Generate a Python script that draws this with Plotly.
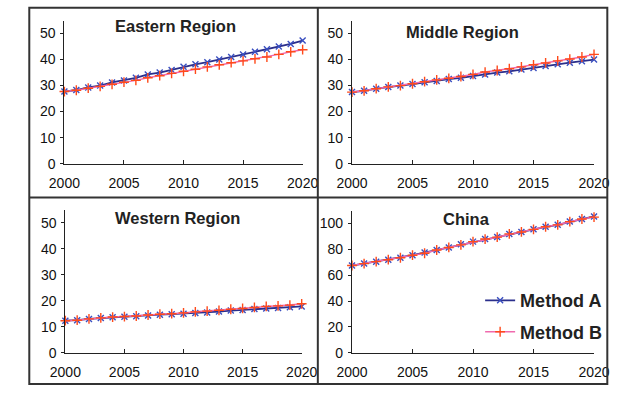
import plotly.graph_objects as go

years = list(range(2000, 2021))

regions = ["Eastern Region", "Middle Region", "Western Region", "China"]
methods = ["Method A", "Method B"]

eastern_a = [27.7, 28.3, 29.3, 30.0, 31.2, 32.0, 33.0, 34.3, 35.0, 36.0, 37.2,
             38.2, 39.0, 40.0, 41.0, 42.0, 43.0, 44.0, 45.0, 46.0, 47.3]
eastern_b = [27.7, 28.2, 29.0, 29.7, 30.5, 31.3, 32.0, 33.0, 33.8, 34.7, 35.5,
             36.3, 37.2, 38.0, 38.8, 39.5, 40.3, 41.0, 42.0, 43.0, 43.8]

middle_a = [27.5, 28.0, 28.8, 29.5, 30.0, 30.6, 31.3, 31.8, 32.5, 33.0, 33.7,
            34.3, 35.0, 35.5, 36.2, 36.8, 37.5, 38.2, 38.8, 39.4, 40.0]
middle_b = [27.5, 28.0, 28.8, 29.5, 30.0, 30.7, 31.5, 32.2, 32.8, 33.5, 34.3,
            35.2, 35.8, 36.5, 37.2, 38.0, 38.7, 39.5, 40.2, 41.0, 42.0]

western_a = [12.3, 12.5, 13.0, 13.3, 13.6, 13.8, 14.0, 14.3, 14.6, 14.8, 15.0,
             15.3, 15.5, 15.8, 16.2, 16.4, 16.8, 17.0, 17.2, 17.5, 17.8]
western_b = [12.3, 12.5, 13.0, 13.4, 13.7, 13.9, 14.1, 14.5, 14.8, 15.0, 15.3,
             15.7, 16.0, 16.3, 16.7, 17.0, 17.4, 17.8, 18.0, 18.3, 18.8]

china_a = [67.5, 69.0, 70.5, 72.0, 73.5, 75.5, 77.5, 79.5, 81.5, 84.0, 86.0,
           88.0, 89.5, 92.0, 93.5, 95.5, 97.5, 99.0, 101.5, 103.5, 105.5]
china_b = [67.5, 69.0, 70.5, 72.0, 73.5, 75.5, 77.0, 79.5, 81.5, 83.5, 86.0,
           88.0, 89.5, 92.0, 93.5, 95.5, 97.5, 99.0, 101.5, 103.5, 105.0]

series_a = [eastern_a, middle_a, western_a, china_a]
series_b = [eastern_b, middle_b, western_b, china_b]

y_max = [55, 55, 55, 110]
y_dtick = [10, 10, 10, 20]

W, H = 629, 394

# panel plot areas in pixels: (left, right, top, bottom)
panels = [
    (51, 302, 21, 167),
    (354, 609, 21, 167),
    (52, 301, 214, 360),
    (354, 609, 215, 360),
]
title_pos = [(168, 27), (470, 33), (170, 223), (475, 224)]

NAVY = "#2B2F8C"
BLUE_MK = "#3A4FC0"
PINK = "#F06AAE"
ORANGE = "#FF4A1A"
FONT = "Liberation Sans"

fig = go.Figure()
layout = {}
for i in range(4):
    xn = "x" if i == 0 else f"x{i + 1}"
    yn = "y" if i == 0 else f"y{i + 1}"
    l, r, t, b = panels[i]
    fig.add_trace(go.Scatter(
        x=years, y=series_a[i], xaxis=xn, yaxis=yn, mode="lines+markers",
        name=f"<b>{methods[0]}</b>", showlegend=(i == 3), legendgroup="a",
        line=dict(color=NAVY, width=1.8), cliponaxis=False,
        marker=dict(symbol="x-thin", size=6, line=dict(color=BLUE_MK, width=1.4)),
    ))
    fig.add_trace(go.Scatter(
        x=years, y=series_b[i], xaxis=xn, yaxis=yn, mode="lines+markers",
        name=f"<b>{methods[1]}</b>", showlegend=(i == 3), legendgroup="b",
        line=dict(color=PINK, width=1.5), cliponaxis=False,
        marker=dict(symbol="cross-thin", size=7, line=dict(color=ORANGE, width=1.4)),
    ))
    xkey = "xaxis" if i == 0 else f"xaxis{i + 1}"
    ykey = "yaxis" if i == 0 else f"yaxis{i + 1}"
    layout[xkey] = dict(
        domain=[l / W, r / W], anchor=yn, range=[2000, 2020],
        tickvals=[2000, 2005, 2010, 2015, 2020], ticks="inside", ticklen=4,
        tickcolor="#222", showline=True, linecolor="#222", linewidth=1.2,
        showgrid=False, zeroline=False, ticklabelstandoff=6,
        tickfont=dict(family=FONT, size=14, color="#111"),
    )
    layout[ykey] = dict(
        domain=[1 - b / H, 1 - t / H], anchor=xn, range=[0, y_max[i]],
        dtick=y_dtick[i], tick0=0, ticks="outside", ticklen=3,
        tickcolor="#222", showline=True, linecolor="#222", linewidth=1.2,
        showgrid=False, zeroline=False, ticklabelstandoff=2,
        tickfont=dict(family=FONT, size=14, color="#111"),
    )

fig.update_layout(**layout)

annotations = []
for name, (tx, ty) in zip(regions, title_pos):
    annotations.append(dict(
        text=f"<b>{name}</b>", x=tx / W, y=1 - ty / H, xref="paper", yref="paper",
        showarrow=False, xanchor="center", yanchor="middle",
        font=dict(family=FONT, size=16.5, color="#222"),
    ))

# frame around the four panels
BORDER = "#333"
shapes = [
    dict(type="rect", xref="paper", yref="paper", x0=14 / W, x1=623 / W,
         y0=1 - 392 / H, y1=1 - 8 / H, line=dict(color=BORDER, width=2)),
    dict(type="line", xref="paper", yref="paper", x0=318 / W, x1=318 / W,
         y0=1 - 392 / H, y1=1 - 8 / H, line=dict(color=BORDER, width=2)),
    dict(type="line", xref="paper", yref="paper", x0=14 / W, x1=623 / W,
         y0=1 - 201.5 / H, y1=1 - 201.5 / H, line=dict(color=BORDER, width=2)),
]

fig.update_layout(
    width=W, height=H, margin=dict(l=0, r=0, t=0, b=0),
    paper_bgcolor="white", plot_bgcolor="white",
    annotations=annotations, shapes=shapes,
    legend=dict(x=489 / W, y=1 - 288 / H, xanchor="left", yanchor="top",
                bgcolor="rgba(0,0,0,0)", tracegroupgap=5,
                font=dict(family=FONT, size=18, color="#222"),
                itemwidth=30),
)

fig.write_html("out.html")
